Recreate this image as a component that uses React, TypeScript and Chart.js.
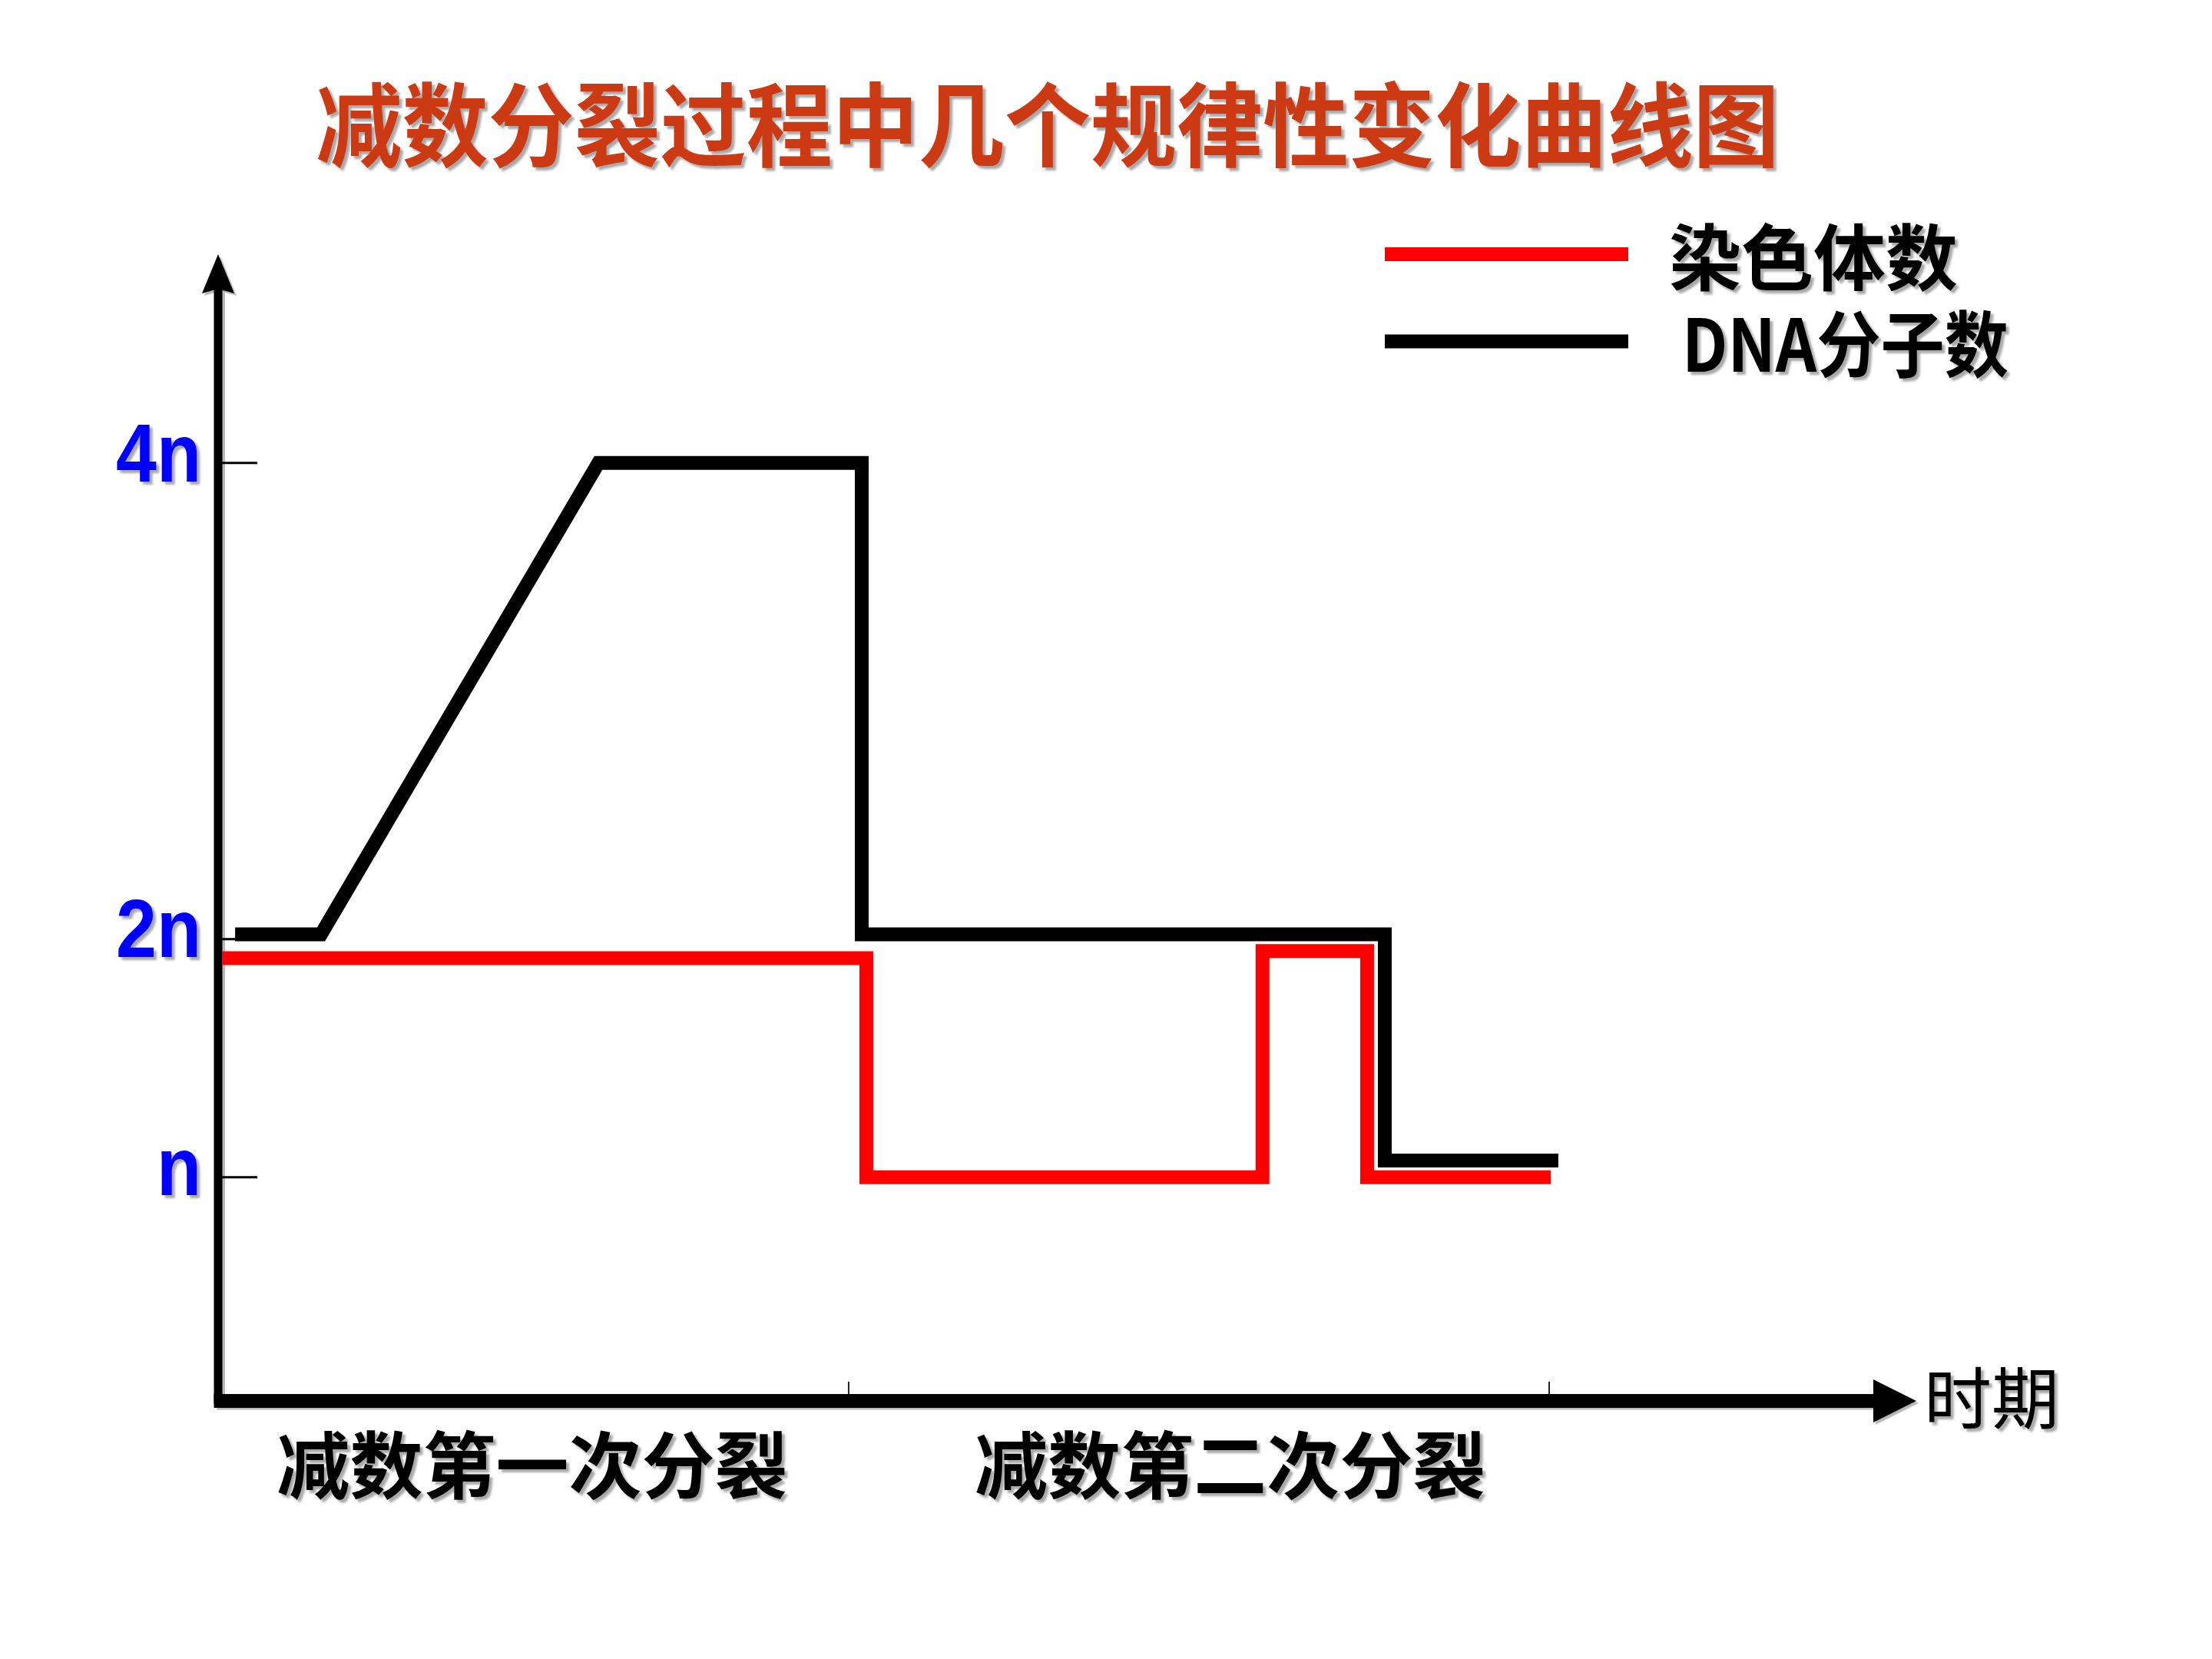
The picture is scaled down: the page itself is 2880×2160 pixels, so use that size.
import React, { useEffect, useRef } from 'react';
import { Chart, registerables } from 'chart.js';

Chart.register(...registerables);

// ---------- data ----------
const TITLE = '减数分裂过程中几个规律性变化曲线图';
const seriesNames = ['染色体数', 'DNA分子数'];
const seriesColors = ['#FF0000', '#000000'];

const chromosomeX = [0.23, 38.17, 38.17, 61.5, 61.5, 67.66, 67.66, 78.47];
const chromosomeY = [1.92, 1.92, 1.0, 1.0, 1.95, 1.95, 1.0, 1.0];

const dnaX = [1.0, 6.06, 22.39, 37.9, 37.9, 68.7, 68.7, 78.92];
const dnaY = [2.02, 2.02, 4.0, 4.0, 2.02, 2.02, 1.07, 1.07];

const yTickValues = [1, 2, 4];
const yTickLabels = ['n', '2n', '4n'];

const phaseBoundaries = [37.13, 78.38];
const phaseLabels = ['减数第一次分裂', '减数第二次分裂'];
const phaseCenters = [18.5, 59.6];
const xAxisTitle = '时期';

const CJK = '"Noto Sans CJK SC", "Noto Sans", sans-serif';
const NARROW_CJK = '"Liberation Sans Narrow", "Noto Sans CJK SC", sans-serif';

const toPoints = (xs: number[], ys: number[]) => xs.map((x, i) => ({ x, y: ys[i] }));

const fillCondensed = (ctx: CanvasRenderingContext2D, text: string, x: number, y: number, factor: number, maxW?: number) => {
  let w = ctx.measureText(text).width * factor;
  if (maxW !== undefined) w = Math.min(w, maxW);
  ctx.fillText(text, x, y, w);
};

const decorPlugin = {
  id: 'decor',
  beforeDatasetsDraw(chart: any) {
    const { ctx, chartArea, scales } = chart;
    const { left, right, top, bottom } = chartArea;
    const xs = scales.x;
    const ys = scales.y;
    ctx.save();
    ctx.fillStyle = '#000';
    ctx.strokeStyle = '#000';
    ctx.shadowColor = 'rgba(0,0,0,0.28)';
    ctx.shadowOffsetX = 3;
    ctx.shadowOffsetY = 3;
    ctx.shadowBlur = 1;
    ctx.lineCap = 'butt';
    // y axis shaft
    ctx.lineWidth = 11;
    ctx.beginPath();
    ctx.moveTo(left, bottom + 3);
    ctx.lineTo(left, top + 44);
    ctx.stroke();
    // y arrow head
    ctx.beginPath();
    ctx.moveTo(left, top);
    ctx.lineTo(left + 21, top + 51);
    ctx.lineTo(left, top + 45);
    ctx.lineTo(left - 21, top + 51);
    ctx.closePath();
    ctx.fill();
    // x axis shaft
    ctx.lineWidth = 18;
    ctx.beginPath();
    ctx.moveTo(left - 5.5, bottom);
    ctx.lineTo(right - 54, bottom);
    ctx.stroke();
    // x arrow head
    ctx.beginPath();
    ctx.moveTo(right, bottom);
    ctx.lineTo(right - 56, bottom - 28);
    ctx.lineTo(right - 56, bottom + 28);
    ctx.closePath();
    ctx.fill();
    ctx.shadowColor = 'transparent';
    // y ticks
    ctx.lineWidth = 3;
    yTickValues.forEach((v) => {
      const py = ys.getPixelForValue(v);
      ctx.beginPath();
      ctx.moveTo(left + 5, py);
      ctx.lineTo(left + 51, py);
      ctx.stroke();
    });
    // x ticks
    ctx.lineWidth = 2;
    ctx.strokeStyle = '#222';
    phaseBoundaries.forEach((b) => {
      const px = xs.getPixelForValue(b);
      ctx.beginPath();
      ctx.moveTo(px, bottom - 9);
      ctx.lineTo(px, bottom - 25);
      ctx.stroke();
    });
    ctx.restore();
  },
  afterDraw(chart: any) {
    const { ctx, chartArea, scales } = chart;
    const { left, right, bottom } = chartArea;
    const xs = scales.x;
    const ys = scales.y;
    ctx.save();
    ctx.shadowColor = 'rgba(110,110,110,0.6)';
    ctx.shadowOffsetX = 4;
    ctx.shadowOffsetY = 4;
    ctx.shadowBlur = 3;

    // title
    ctx.font = `bold 119px ${CJK}`;
    ctx.fillStyle = '#CC3A14';
    ctx.textAlign = 'center';
    ctx.textBaseline = 'middle';
    fillCondensed(ctx, TITLE, 1364, 163, 1, 1905);

    // y labels
    ctx.font = 'bold 108px "Liberation Sans", Arial, sans-serif';
    ctx.fillStyle = '#0000FF';
    ctx.textAlign = 'right';
    yTickValues.forEach((v, i) => {
      fillCondensed(ctx, yTickLabels[i], left - 22, ys.getPixelForValue(v) - 6, 0.88);
    });

    // phase labels
    ctx.font = `bold 95px ${CJK}`;
    ctx.fillStyle = '#000';
    ctx.textAlign = 'center';
    phaseLabels.forEach((t, i) => {
      fillCondensed(ctx, t, xs.getPixelForValue(phaseCenters[i]), bottom + 84, 1, 670);
    });

    // x axis title
    ctx.font = `normal 88px ${CJK}`;
    ctx.textAlign = 'left';
    ctx.fillText(xAxisTitle, right + 10, bottom - 4);

    // legend
    chart.data.datasets.forEach((ds: any, i: number) => {
      const rowY = 331 + i * 113.5;
      ctx.save();
      ctx.shadowColor = 'transparent';
      ctx.strokeStyle = ds.borderColor;
      ctx.lineWidth = 18;
      ctx.beginPath();
      ctx.moveTo(1803, rowY);
      ctx.lineTo(2120, rowY);
      ctx.stroke();
      ctx.restore();
      ctx.font = `bold 94px ${NARROW_CJK}`;
      ctx.fillStyle = '#000';
      ctx.textAlign = 'left';
      fillCondensed(ctx, ds.label, 2173 + i * 17, rowY + 4, 1, 425);
    });
    ctx.restore();
  },
};

export default function App() {
  const canvasRef = useRef<HTMLCanvasElement | null>(null);

  useEffect(() => {
    const canvas = canvasRef.current;
    if (!canvas) return;
    const chart = new Chart(canvas, {
      type: 'line',
      data: {
        datasets: [
          {
            label: seriesNames[0],
            data: toPoints(chromosomeX, chromosomeY),
            borderColor: seriesColors[0],
            backgroundColor: seriesColors[0],
            borderWidth: 18,
            pointRadius: 0,
            tension: 0,
            borderJoinStyle: 'miter',
            borderCapStyle: 'butt',
            clip: false,
          } as any,
          {
            label: seriesNames[1],
            data: toPoints(dnaX, dnaY),
            borderColor: seriesColors[1],
            backgroundColor: seriesColors[1],
            borderWidth: 18,
            pointRadius: 0,
            tension: 0,
            borderJoinStyle: 'miter',
            borderCapStyle: 'butt',
            clip: false,
          } as any,
        ],
      },
      options: {
        animation: false,
        responsive: false,
        devicePixelRatio: 1,
        layout: { padding: { left: 284, right: 385, top: 331, bottom: 336 } },
        plugins: {
          legend: { display: false },
          title: { display: false },
          tooltip: { enabled: false },
        },
        scales: {
          x: { type: 'linear', min: 0, max: 100, display: false },
          y: { type: 'linear', min: 0.06, max: 4.877, display: false },
        },
      },
      plugins: [decorPlugin],
    });
    return () => chart.destroy();
  }, []);

  return (
    <div style={{ position: 'absolute', left: 0, top: 0, width: 2880, height: 2160, background: '#fff' }}>
      <canvas ref={canvasRef} width={2880} height={2160} style={{ display: 'block', width: 2880, height: 2160 }} />
    </div>
  );
}
